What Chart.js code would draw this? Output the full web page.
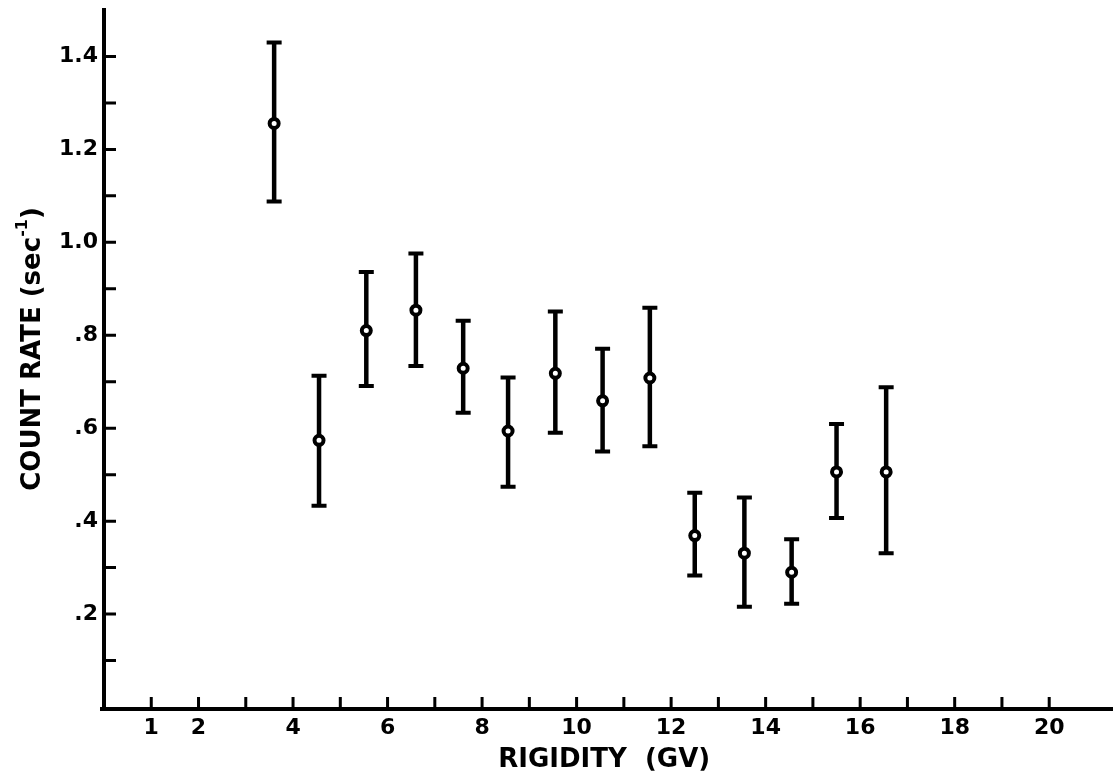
<!DOCTYPE html>
<html>
<head>
<meta charset="utf-8">
<title>Count rate vs rigidity</title>
<script src="https://cdn.jsdelivr.net/npm/chart.js@4.4.1/dist/chart.umd.min.js"></script>
<style>
  html, body { margin: 0; padding: 0; background: #fff; overflow: hidden; }
  canvas { display: block; }
</style>
</head>
<body>
<canvas id="rigidityChart" width="1113" height="783"></canvas>
<script>
/*
==============================================
    Data
==============================================
*/
const rigidity  = [3.6, 4.55, 5.55, 6.6, 7.6, 8.55, 9.55, 10.55, 11.55, 12.5, 13.55, 14.55, 15.5, 16.55];
const countRate = [1.256, 0.574, 0.810, 0.854, 0.729, 0.594, 0.718, 0.659, 0.708, 0.369, 0.331, 0.290, 0.506, 0.506];
const rateHigh  = [1.430, 0.713, 0.936, 0.976, 0.831, 0.709, 0.851, 0.771, 0.859, 0.461, 0.451, 0.361, 0.609, 0.688];
const rateLow   = [1.088, 0.433, 0.691, 0.734, 0.633, 0.474, 0.590, 0.550, 0.561, 0.283, 0.216, 0.222, 0.407, 0.331];

// Tick positions and the labels printed on them
const xTickValues = [1, 2, 3, 4, 5, 6, 7, 8, 9, 10, 11, 12, 13, 14, 15, 16, 17, 18, 19, 20];
const xTickLabels = ['1', '2', '', '4', '', '6', '', '8', '', '10', '', '12', '', '14', '', '16', '', '18', '', '20'];
const yTickValues = [0.1, 0.2, 0.3, 0.4, 0.5, 0.6, 0.7, 0.8, 0.9, 1.0, 1.1, 1.2, 1.3, 1.4];
const yTickLabels = ['', '.2', '', '.4', '', '.6', '', '.8', '', '1.0', '', '1.2', '', '1.4'];

const FONT = '"DejaVu Sans", "Liberation Sans", sans-serif';

// Axis edge paddings are not wanted: the frame runs to the canvas edge
function noPadding(axis) {
    axis.paddingLeft = 0;
    axis.paddingRight = 0;
    axis.paddingTop = 0;
    axis.paddingBottom = 0;
}

/*
==============================================
    Plugins: error bars, axis line + inward ticks, y title
==============================================
*/
const errorBars = {
    id: 'errorBars',
    beforeDatasetsDraw(chart) {
        const { ctx, scales: { x, y } } = chart;
        ctx.save();
        ctx.strokeStyle = '#000';
        rigidity.forEach((r, i) => {
            const px = x.getPixelForValue(r);
            const top = y.getPixelForValue(rateHigh[i]);
            const bot = y.getPixelForValue(rateLow[i]);
            ctx.lineWidth = 4.5;
            ctx.beginPath();
            ctx.moveTo(px, top);
            ctx.lineTo(px, bot);
            ctx.stroke();
            // caps
            ctx.lineWidth = 4;
            ctx.beginPath();
            ctx.moveTo(px - 7.5, top);
            ctx.lineTo(px + 7.5, top);
            ctx.moveTo(px - 7.5, bot);
            ctx.lineTo(px + 7.5, bot);
            ctx.stroke();
        });
        ctx.restore();
    }
};

const inwardTicks = {
    id: 'inwardTicks',
    afterDraw(chart) {
        const { ctx, chartArea, scales: { x, y } } = chart;
        ctx.save();
        ctx.strokeStyle = '#000';
        // the rigidity axis line, running on to the right edge of the sheet
        ctx.lineWidth = 4;
        ctx.beginPath();
        ctx.moveTo(chartArea.left - 4, chartArea.bottom + 2);
        ctx.lineTo(chart.width, chartArea.bottom + 2);
        ctx.stroke();
        ctx.lineWidth = 3;
        ctx.beginPath();
        x.ticks.forEach(t => {
            const px = x.getPixelForValue(t.value);
            ctx.moveTo(px, chartArea.bottom + 1);
            ctx.lineTo(px, chartArea.bottom - 10);
        });
        y.ticks.forEach(t => {
            const py = y.getPixelForValue(t.value);
            ctx.moveTo(chartArea.left, py);
            ctx.lineTo(chartArea.left + 12, py);
        });
        ctx.stroke();
        ctx.restore();
    }
};

const yTitle = {
    id: 'yTitle',
    afterDraw(chart) {
        const { ctx } = chart;
        const main = 'bold 26px ' + FONT;
        const small = 'bold 16px ' + FONT;
        ctx.save();
        ctx.translate(32, 349);
        ctx.rotate(-Math.PI / 2);
        ctx.fillStyle = '#000';
        ctx.textBaseline = 'middle';
        ctx.font = main;
        const w1 = ctx.measureText('COUNT RATE (sec').width;
        const w3 = ctx.measureText(')').width;
        ctx.font = small;
        const w2 = ctx.measureText('-1').width;
        let cx = -(w1 + w2 + w3) / 2;
        ctx.font = main;
        ctx.fillText('COUNT RATE (sec', cx, 1);
        cx += w1;
        ctx.font = small;
        ctx.fillText('-1', cx, -9);
        cx += w2;
        ctx.font = main;
        ctx.fillText(')', cx, 1);
        ctx.restore();
    }
};

/*
==============================================
    Chart
==============================================
*/
function renderRigidityChart() {
    const ctx = document.getElementById('rigidityChart').getContext('2d');
    new Chart(ctx, {
        type: 'scatter',
        data: {
            datasets: [{
                data: rigidity.map((r, i) => ({ x: r, y: countRate[i] })),
                pointRadius: 4.5,
                pointBorderWidth: 4,
                pointBackgroundColor: '#fff',
                pointBorderColor: '#000',
                showLine: false
            }]
        },
        options: {
            responsive: false,
            animation: false,
            layout: { padding: { top: 10, right: 0, left: 0, bottom: 0 } },
            plugins: {
                legend: { display: false },
                tooltip: { enabled: false }
            },
            scales: {
                x: {
                    type: 'linear',
                    min: 0,
                    max: 21.17,
                    grid: { display: false, drawTicks: false },
                    border: { display: false },
                    afterBuildTicks: axis => { axis.ticks = xTickValues.map(v => ({ value: v })); },
                    afterFit: axis => {
                        axis.height = 76;
                        noPadding(axis);
                    },
                    ticks: {
                        color: '#000',
                        padding: 8,
                        autoSkip: false,
                        maxRotation: 0,
                        font: { family: FONT, size: 22, weight: 'bold' },
                        callback: value => xTickLabels[xTickValues.indexOf(value)] || ''
                    },
                    title: {
                        display: true,
                        text: 'RIGIDITY  (GV)',
                        color: '#000',
                        font: { family: FONT, size: 26, weight: 'bold' },
                        padding: { top: 0, bottom: 7 }
                    }
                },
                y: {
                    min: 0,
                    max: 1.5,
                    grid: { display: false, drawTicks: false },
                    border: { display: true, color: '#000', width: 4 },
                    afterBuildTicks: axis => { axis.ticks = yTickValues.map(v => ({ value: v })); },
                    afterFit: axis => {
                        axis.width = 104;
                        noPadding(axis);
                    },
                    ticks: {
                        color: '#000',
                        padding: 6,
                        autoSkip: false,
                        font: { family: FONT, size: 22, weight: 'bold' },
                        callback: value => yTickLabels[yTickValues.indexOf(value)] || ''
                    }
                }
            }
        },
        plugins: [errorBars, inwardTicks, yTitle]
    });
}

renderRigidityChart();
</script>
</body>
</html>
